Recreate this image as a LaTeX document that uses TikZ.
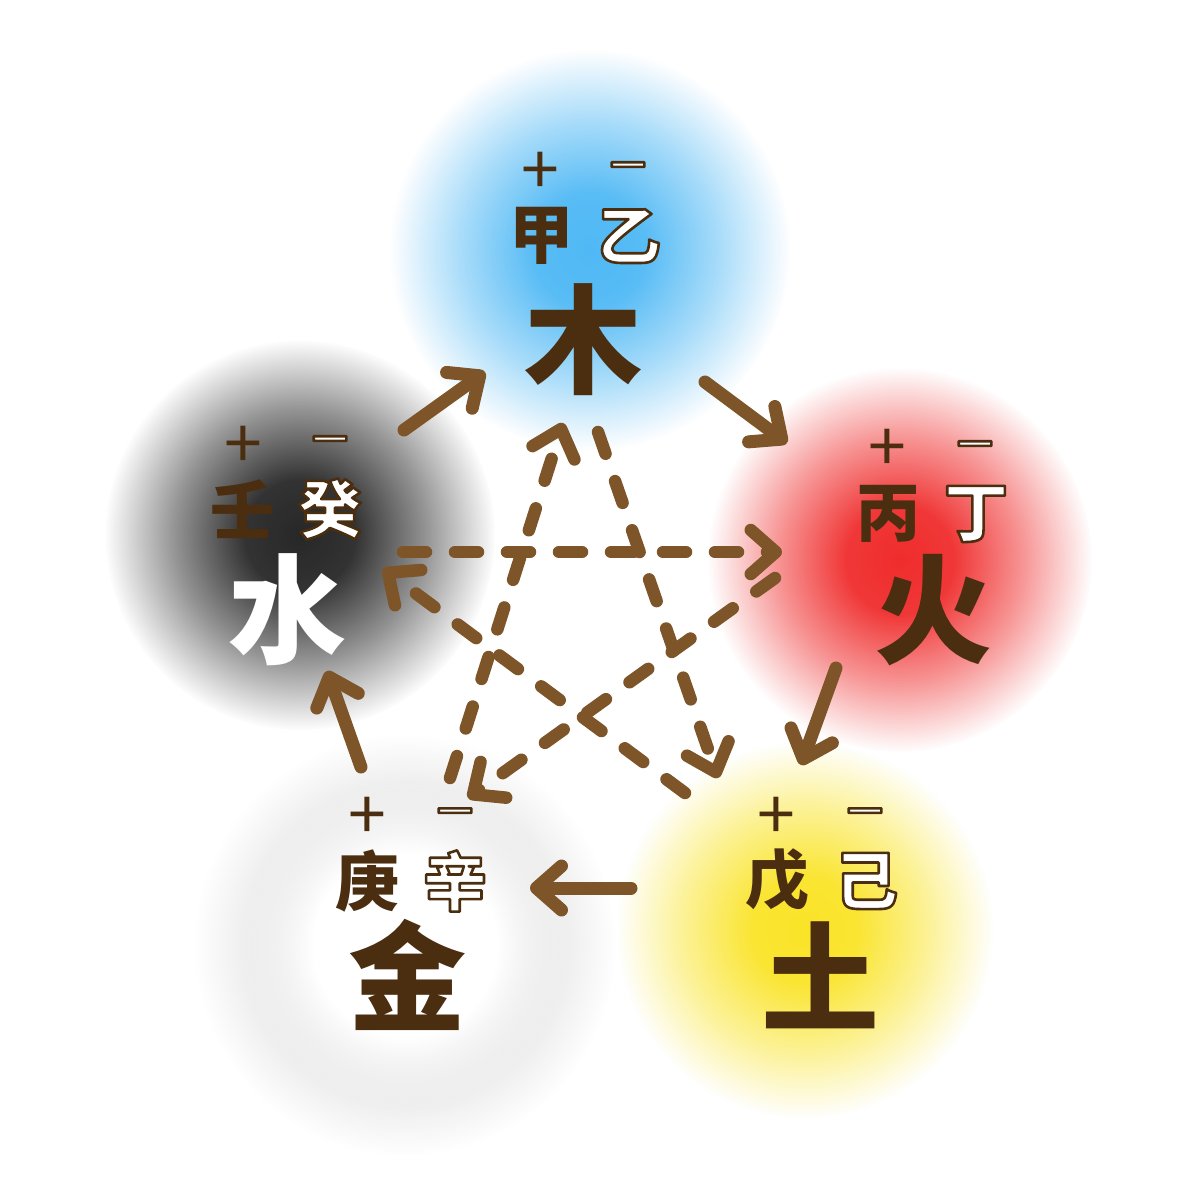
\documentclass[tikz,border=0pt]{standalone}
\usepackage{fontspec}
\usetikzlibrary{arrows.meta,fadings}
\newfontfamily\cjk{Noto Sans CJK SC}
\definecolor{inkbrown}{RGB}{75,45,15}
\definecolor{arrowbrown}{RGB}{125,85,40}
\definecolor{woodblue}{RGB}{80,185,245}
\definecolor{firered}{RGB}{240,45,45}
\definecolor{earthyellow}{RGB}{250,228,40}
\definecolor{metalgray}{RGB}{205,205,205}
\definecolor{waterblack}{RGB}{40,40,40}
\pgfdeclareradialshading{glowshade}{\pgfpoint{0bp}{0bp}}{color(0bp)=(white); color(7bp)=(white!95!black); color(16bp)=(white!50!black); color(25bp)=(black); color(50bp)=(black)}
\pgfdeclarefading{glow}{\pgfuseshading{glowshade}}
\pgfdeclareradialshading{coreshade}{\pgfpoint{0bp}{0bp}}{color(0bp)=(white); color(14bp)=(white); color(25bp)=(black); color(50bp)=(black)}
\pgfdeclarefading{glowcore}{\pgfuseshading{coreshade}}
% white letter with a brown rim (pdf text render mode 2)
\newcommand{\yin}[1]{\textcolor{white}{\special{pdf:literal direct q 0.29 0.18 0.06 RG 2.6 w 1 j 2 Tr}#1\special{pdf:literal direct Q}}}
\begin{document}
\begin{tikzpicture}[x=1pt,y=-1pt,
    bignode/.style={font=\cjk\bfseries\fontsize{118}{118}\selectfont, text=inkbrown, inner sep=0pt},
    stemnode/.style={font=\cjk\bfseries\fontsize{64}{64}\selectfont, text=inkbrown, inner sep=0pt},
    signnode/.style={font=\cjk\fontsize{68}{68}\selectfont, text=inkbrown, inner sep=0pt},
    gen/.style={arrowbrown, line width=13pt, line cap=round, -{Straight Barb[length=25pt,width=44pt,round]}},
    ctl/.style={arrowbrown, line width=12.5pt, line cap=round, dash pattern=on 23pt off 29pt, -{Straight Barb[length=25pt,width=44pt,round]}}]
    \useasboundingbox (0,0) rectangle (1186,1186);
    \fill[white] (0,0) rectangle (1186,1186);

    % glows
    \fill[waterblack, path fading=glow] (300,535) circle (195);
    \fill[woodblue, path fading=glow] (590,250) circle (200);
    \fill[firered, path fading=glow] (900,560) circle (192);
    \fill[earthyellow, path fading=glow] (805,930) circle (188);
    \fill[metalgray, path fading=glow] (405,945) circle (210);
    \fill[white, path fading=glowcore] (405,945) circle (165);

    % wood
    \node[bignode] (mu) at (583,340) {木};
    \node[stemnode] (jia) at (541,236) {甲};
    \node[stemnode] (yi) at (629,236) {\yin{乙}};
    \node[signnode] (jiap) at (540,173) {+};
    \node[signnode] (yim) at (628,176) {\yin{−}};
    % fire
    \node[bignode] (huo) at (933,610) {火};
    \node[stemnode] (bing) at (888,514) {丙};
    \node[stemnode] (ding) at (976,514) {\yin{丁}};
    \node[signnode] (bingp) at (887,450) {+};
    \node[signnode] (dingm) at (975,455) {\yin{−}};
    % earth
    \node[bignode] (tu) at (820,975) {土};
    \node[stemnode] (wu) at (777,880) {戊};
    \node[stemnode] (ji) at (866,881) {\yin{己}};
    \node[signnode] (wup) at (776,818) {+};
    \node[signnode] (jim) at (865,822) {\yin{−}};
    % metal
    \node[bignode] (jin) at (407,975) {金};
    \node[stemnode] (geng) at (367,881) {庚};
    \node[stemnode] (xin) at (455,881) {\yin{辛}};
    \node[signnode] (gengp) at (367,818) {+};
    \node[signnode] (xinm) at (455,822) {\yin{−}};
    % water
    \node[bignode, text=white] (shui) at (287,610) {水};
    \node[stemnode] (ren) at (242,509) {壬};
    \node[stemnode] (gui) at (330,509) {\yin{癸}};
    \node[signnode] (renp) at (243,447) {+};
    \node[signnode] (guim) at (330,450) {\yin{−}};

    % arrow ends
    \coordinate (s1) at (404,430);  \coordinate (s1x) at (485,372);
    \coordinate (s2) at (705,382);  \coordinate (s2x) at (787,443);
    \coordinate (s3) at (836,668);  \coordinate (s3x) at (801,765);
    \coordinate (s4) at (631,888);  \coordinate (s4x) at (530,888);
    \coordinate (s5) at (361,767);  \coordinate (s5x) at (327,671);
    \coordinate (k1) at (403,552);  \coordinate (k1x) at (782,552);
    \coordinate (k2) at (775,578);  \coordinate (k2x) at (468,798);
    \coordinate (k3) at (450,778);  \coordinate (k3x) at (563,423);
    \coordinate (k4) at (598,432);  \coordinate (k4x) at (718,778);
    \coordinate (k5) at (685,793);  \coordinate (k5x) at (383,569);

    \draw[gen] (s1) -- (s1x);
    \draw[gen] (s2) -- (s2x);
    \draw[gen] (s3) -- (s3x);
    \draw[gen] (s4) -- (s4x);
    \draw[gen] (s5) -- (s5x);

    \draw[ctl] (k1) to (k1x);
    \draw[ctl] (k2) to (k2x);
    \draw[ctl] (k3) to (k3x);
    \draw[ctl] (k4) to (k4x);
    \draw[ctl] (k5) to (k5x);
\end{tikzpicture}
\end{document}
